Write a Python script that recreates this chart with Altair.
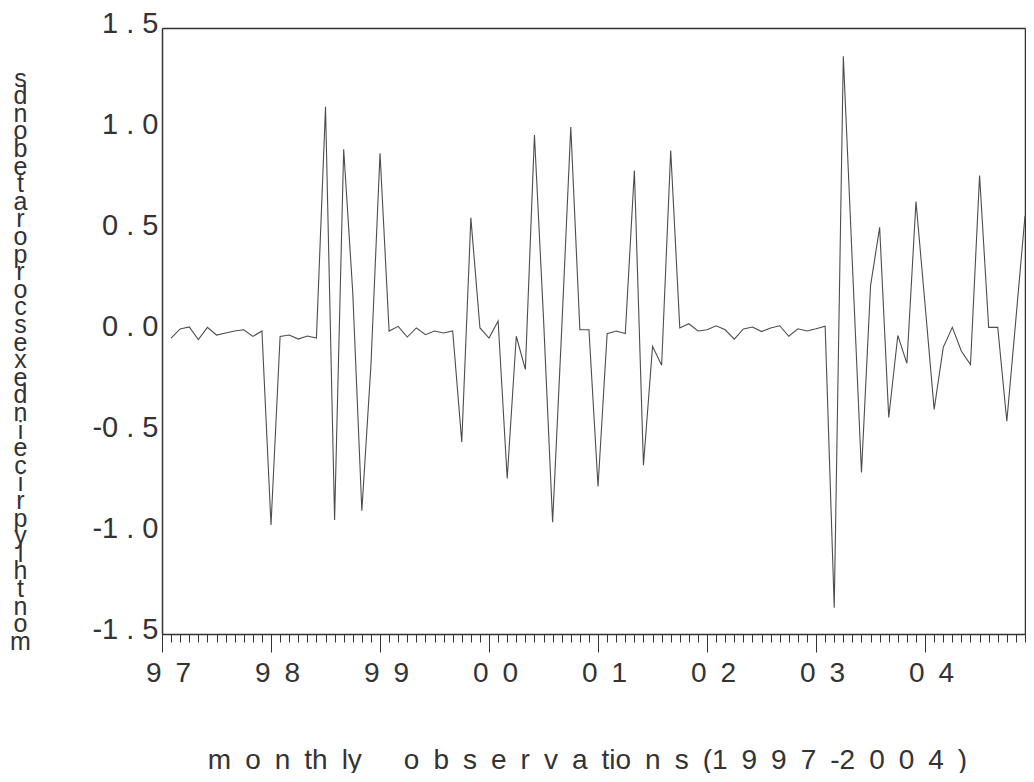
import altair as alt
import pandas as pd

# month index: 0 = Jan 1997 ... 95 = Dec 2004 ; data start Feb 1997
months = list(range(1, 96))
values = [
    -0.035, 0.01, 0.02, -0.043, 0.018, -0.02, -0.01, 0.0, 0.006, -0.027, 0.0,
    -0.96, -0.027, -0.02, -0.04, -0.025, -0.035, 1.11, -0.935, 0.90, 0.19, -0.89, -0.17,
    0.88, 0.0, 0.023, -0.03, 0.015, -0.018, 0.0, -0.01, 0.0, -0.55, 0.56, 0.015,
    -0.035, 0.05, -0.73, -0.026, -0.19, 0.97, 0.06, -0.947, 0.008, 1.01, 0.006, 0.006,
    -0.77, -0.013, 0.0, -0.013, 0.795, -0.665, -0.076, -0.17, 0.894, 0.015, 0.036, 0.0,
    0.006, 0.026, 0.006, -0.04, 0.01, 0.02, -0.003, 0.015, 0.026, -0.026, 0.011, 0.0,
    0.011, 0.024, -1.37, 1.36, 0.33, -0.70, 0.225, 0.513, -0.428, -0.022, -0.16, 0.641,
    0.13, -0.388, -0.081, 0.018, -0.10, -0.166, 0.77, 0.018, 0.018, -0.447, 0.06, 0.57,
]
year_ticks = [0, 12, 24, 36, 48, 60, 72, 84]
year_labels = ["9\u20027", "9\u20028", "9\u20029", "0\u20020", "0\u20021", "0\u20022", "0\u20023", "0\u20024"]
y_ticks = [-1.5, -1.0, -0.5, 0.0, 0.5, 1.0, 1.5]
x_title_tokens = ["m", "o", "n", "th", "ly\u2002\u2002", "o", "b", "s", "e", "r", "v", "a", "tio", "n", "s",
                  "(1", "9", "9", "7", "-2", "0", "0", "4", ")"]
y_title_text = "monthly price indexes corporate bonds"

df = pd.DataFrame({"m": months, "v": values})

FONT = "Liberation Sans"
INK = "#333333"
LINE = "#4d4d4d"
FRAME_W = 1.5

xscale = alt.Scale(domain=[0, 95], nice=False, zero=False)
yscale = alt.Scale(domain=[-1.5, 1.5], nice=False, zero=False)

label_expr = "[" + ",".join("'" + s + "'" for s in year_labels) + "][round(datum.value / 12)]"
y_label_expr = "replace((datum.value < 0 ? '-' : '') + format(abs(datum.value), '.1f'), '.', ' . ')"

x_title = "\u2002".join(x_title_tokens)
y_title_lines = list(reversed(list(y_title_text)))

line = alt.Chart(df).mark_line(color=LINE, strokeWidth=1.1).encode(
    x=alt.X(
        "m:Q",
        scale=xscale,
        axis=alt.Axis(
            orient="bottom",
            values=year_ticks,
            tickSize=18,
            tickColor=INK,
            tickWidth=1,
            domain=True,
            domainColor=INK,
            domainWidth=FRAME_W,
            grid=False,
            labelExpr=label_expr,
            labelFont=FONT,
            labelFontSize=28,
            labelColor=INK,
            labelFlush=False,
            labelOverlap=False,
            labelPadding=7,
            labelOffset=6,
            labelBaseline="top",
            title=x_title,
            titleFont=FONT,
            titleFontSize=28,
            titleFontWeight="normal",
            titleColor=INK,
            titleX=425,
            titleY=126,
            titleAlign="center",
            titleBaseline="middle",
        ),
    ),
    y=alt.Y(
        "v:Q",
        scale=yscale,
        axis=alt.Axis(
            orient="left",
            values=y_ticks,
            tickSize=0,
            domain=True,
            domainColor=INK,
            domainWidth=FRAME_W,
            grid=False,
            labelExpr=y_label_expr,
            labelFont=FONT,
            labelFontSize=29,
            labelColor=INK,
            labelPadding=4,
            labelBaseline="alphabetic",
            labelOffset=4,
            labelFlush=False,
            labelOverlap=False,
            title=y_title_lines,
            titleAngle=0,
            titleFont=FONT,
            titleFontSize=25,
            titleFontWeight="normal",
            titleColor=INK,
            titleLineHeight=17.6,
            titleX=-142,
            titleY=58,
            titleAlign="center",
            titleBaseline="alphabetic",
        ),
    ),
)

minor = alt.Chart(df).mark_point(opacity=0).encode(
    x=alt.X(
        "m:Q",
        scale=xscale,
        title=None,
        axis=alt.Axis(
            orient="bottom",
            values=list(range(0, 96)),
            tickSize=8,
            tickColor=INK,
            tickWidth=1,
            domain=False,
            grid=False,
            labels=False,
        ),
    ),
)

frame = alt.Chart(df).mark_point(opacity=0).encode(
    x=alt.X(
        "m:Q",
        scale=xscale,
        title=None,
        axis=alt.Axis(
            orient="top",
            ticks=False,
            labels=False,
            grid=False,
            domain=True,
            domainColor=INK,
            domainWidth=FRAME_W,
        ),
    ),
    y=alt.Y(
        "v:Q",
        scale=yscale,
        title=None,
        axis=alt.Axis(
            orient="right",
            ticks=False,
            labels=False,
            grid=False,
            domain=True,
            domainColor=INK,
            domainWidth=FRAME_W,
        ),
    ),
)

chart = (
    alt.layer(line, minor, frame)
    .resolve_axis(x="independent", y="independent")
    .properties(
        width=863,
        height=606,
        autosize=alt.AutoSizeParams(type="none"),
        padding={"left": 154, "top": 20, "right": 1, "bottom": 139},
    )
    .configure_view(strokeWidth=0)
    .configure(background="white")
)

chart.save("out.html", embed_options={"renderer": "svg", "actions": False})
